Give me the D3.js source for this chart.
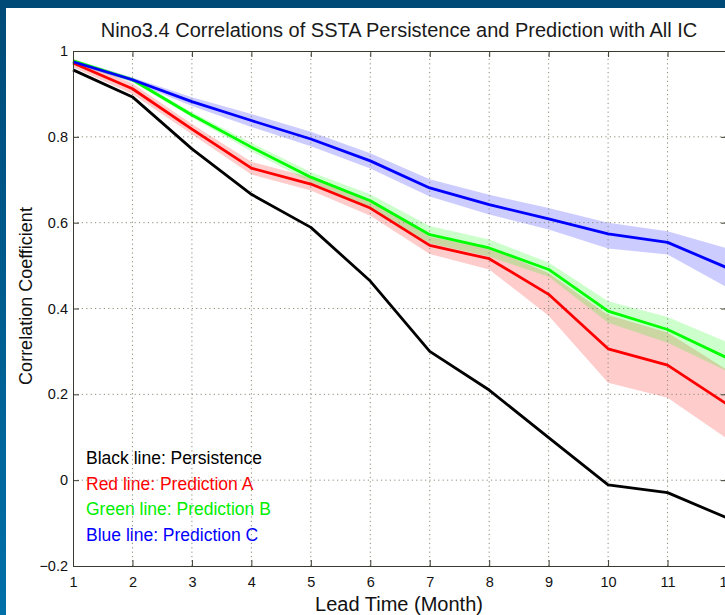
<!DOCTYPE html>
<html>
<head>
<meta charset="utf-8">
<script src="https://cdn.jsdelivr.net/npm/d3@7"></script>
<style>
  body { margin: 0; background: #fff; }
  svg { display: block; font-family: "Liberation Sans", Arial, Helvetica, sans-serif; }
</style>
</head>
<body>
<div id="chart"></div>
<script>
// Lead time in months
const leads = [1, 2, 3, 4, 5, 6, 7, 8, 9, 10, 11, 12];

// Correlation values
const persistence = [0.956, 0.893, 0.772, 0.666, 0.589, 0.464, 0.300, 0.210, 0.099, -0.011, -0.029, -0.088];
const predA = [0.972, 0.912, 0.818, 0.727, 0.690, 0.634, 0.547, 0.516, 0.433, 0.306, 0.268, 0.177];
const predB = [0.977, 0.933, 0.851, 0.776, 0.706, 0.651, 0.572, 0.541, 0.491, 0.394, 0.351, 0.285];
const predC = [0.975, 0.933, 0.882, 0.838, 0.795, 0.744, 0.681, 0.642, 0.609, 0.574, 0.554, 0.495];

// spread bands (lower / upper)
const predALo = [0.962, 0.900, 0.806, 0.712, 0.675, 0.616, 0.527, 0.491, 0.383, 0.227, 0.192, 0.097];
const predAHi = [0.982, 0.924, 0.830, 0.742, 0.705, 0.652, 0.567, 0.541, 0.483, 0.385, 0.344, 0.257];
const predBLo = [0.972, 0.928, 0.845, 0.766, 0.694, 0.636, 0.552, 0.521, 0.474, 0.367, 0.320, 0.254];
const predBHi = [0.982, 0.938, 0.857, 0.786, 0.718, 0.666, 0.592, 0.561, 0.507, 0.417, 0.380, 0.322];
const predCLo = [0.970, 0.928, 0.872, 0.823, 0.778, 0.726, 0.661, 0.619, 0.584, 0.540, 0.526, 0.449];
const predCHi = [0.980, 0.938, 0.892, 0.853, 0.812, 0.762, 0.701, 0.665, 0.634, 0.600, 0.580, 0.540];

const yTicks = [-0.2, 0, 0.2, 0.4, 0.6, 0.8, 1];
const legendLabels = ["Black line: Persistence", "Red line: Prediction A", "Green line: Prediction B", "Blue line: Prediction C"];
const colors = ["#000000", "#ff0000", "#00ee00", "#0000ff"];

const width = 725, height = 615;
const margin = { top: 51, left: 73 };
const plotW = 654, plotH = 515;

const svg = d3.select("#chart").append("svg")
  .attr("width", width)
  .attr("height", height);

// blue frame behind the page
const grad = svg.append("defs").append("linearGradient")
  .attr("id", "frame").attr("x1", 0).attr("y1", 0).attr("x2", 0).attr("y2", 1);
grad.append("stop").attr("offset", "0%").attr("stop-color", "#004a78");
grad.append("stop").attr("offset", "100%").attr("stop-color", "#0070a8");
svg.append("rect").attr("width", width).attr("height", height).attr("fill", "url(#frame)");
svg.append("rect").attr("x", 6).attr("y", 8).attr("width", width - 6).attr("height", height - 8).attr("fill", "#fff");

const x = d3.scaleLinear().domain([1, 12]).range([margin.left, margin.left + plotW]);
const y = d3.scaleLinear().domain([-0.2, 1]).range([margin.top + plotH, margin.top]);

// title
svg.append("text")
  .attr("x", 399).attr("y", 37)
  .attr("text-anchor", "middle")
  .attr("font-size", 20)
  .attr("fill", "#1a1a1a")
  .text("Nino3.4 Correlations of SSTA Persistence and Prediction with All IC");

// bands
const bands = [[predALo, predAHi, "#ff0000"], [predBLo, predBHi, "#00ff00"], [predCLo, predCHi, "#0000ff"]];
const area = d3.area()
  .x((d, i) => x(leads[i]))
  .y0(d => y(d[0]))
  .y1(d => y(d[1]));
bands.forEach(([lo, hi, c]) => {
  svg.append("path")
    .datum(lo.map((v, i) => [v, hi[i]]))
    .attr("d", area)
    .attr("fill", c)
    .attr("fill-opacity", 0.2);
});

// legend text
legendLabels.forEach((t, i) => {
  svg.append("text")
    .attr("x", 86).attr("y", 464 + i * 25.5)
    .attr("font-size", 17.5)
    .attr("fill", colors[i])
    .text(t);
});

// grid
const grid = svg.append("g")
  .attr("stroke", "#8c8c78")
  .attr("stroke-width", 1)
  .attr("stroke-dasharray", "1.2,3.2");
leads.slice(1).forEach(v => {
  grid.append("line")
    .attr("x1", x(v)).attr("x2", x(v))
    .attr("y1", y(-0.2)).attr("y2", y(1));
});
yTicks.slice(1, -1).forEach(v => {
  grid.append("line")
    .attr("x1", x(1)).attr("x2", x(12))
    .attr("y1", y(v)).attr("y2", y(v));
});

// lines
const line = d3.line().x((d, i) => x(leads[i])).y(d => y(d));
[persistence, predA, predB, predC].forEach((s, i) => {
  svg.append("path")
    .datum(s)
    .attr("d", line)
    .attr("fill", "none")
    .attr("stroke", i === 2 ? "#00ff00" : colors[i])
    .attr("stroke-width", 2.8)
    .attr("stroke-linejoin", "round");
});

// axes (ticks point inward)
svg.append("g")
  .attr("transform", `translate(0,${y(-0.2)})`)
  .call(d3.axisBottom(x).tickValues(leads).tickSizeInner(-6).tickSizeOuter(0).tickPadding(11).tickFormat(d3.format("d")));
svg.append("g")
  .attr("transform", `translate(${x(1)},0)`)
  .call(d3.axisLeft(y).tickValues(yTicks).tickSizeInner(-6).tickSizeOuter(0).tickPadding(5).tickFormat(d => d === 0 ? "0" : d3.format("")(d)));
svg.append("g")
  .attr("transform", `translate(0,${y(1)})`)
  .call(d3.axisTop(x).tickValues(leads).tickSizeInner(-6).tickSizeOuter(0).tickFormat(""));
svg.append("g")
  .attr("transform", `translate(${x(12)},0)`)
  .call(d3.axisRight(y).tickValues(yTicks).tickSizeInner(-6).tickSizeOuter(0).tickFormat(""));

svg.selectAll(".domain").attr("stroke", "#3a3a30");
svg.selectAll(".tick line").attr("stroke", "#3a3a30");
svg.selectAll(".tick text")
  .attr("font-size", 14.5)
  .attr("fill", "#111")
  .style("font-family", "\"Liberation Sans\", Arial, sans-serif");

// axis titles
svg.append("text")
  .attr("x", 399).attr("y", 611)
  .attr("text-anchor", "middle")
  .attr("font-size", 20)
  .attr("fill", "#111")
  .text("Lead Time (Month)");
svg.append("text")
  .attr("transform", "translate(32,296) rotate(-90)")
  .attr("text-anchor", "middle")
  .attr("font-size", 18)
  .attr("fill", "#111")
  .text("Correlation Coefficient");
</script>
</body>
</html>
